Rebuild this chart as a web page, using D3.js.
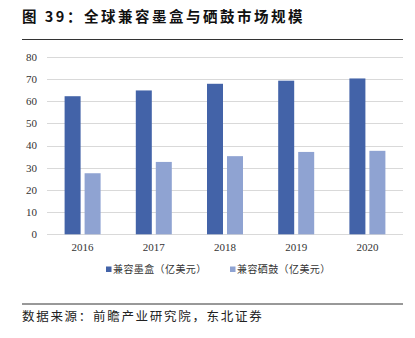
<!DOCTYPE html>
<html><head><meta charset="utf-8">
<script src="https://cdn.jsdelivr.net/npm/d3@7"></script>
<style>body{margin:0;background:#fff}</style>
</head><body>
<script>
const categories = ["2016","2017","2018","2019","2020"];
const seriesNames = ["兼容墨盒（亿美元）","兼容硒鼓（亿美元）"];
const inkValues = [62.2, 64.8, 67.8, 69.2, 70.2];
const tonerValues = [27.5, 32.6, 35.2, 37.1, 37.6];
const yTicks = [0,10,20,30,40,50,60,70,80];
const colors = ["#4363A8", "#8FA3D2"];

const W = 415, H = 338;
const svg = d3.select("body").append("svg").attr("width", W).attr("height", H);

// title
svg.append("text").attr("x", 22).attr("y", 22)
  .attr("font-family", "Noto Sans CJK SC").attr("font-weight", "bold").attr("font-size", 14.5)
  .attr("letter-spacing", 2.5).attr("fill", "#111")
  .text("图 39：全球兼容墨盒与硒鼓市场规模");
svg.append("line").attr("x1", 22).attr("x2", 403).attr("y1", 39.5).attr("y2", 39.5)
  .attr("stroke", "#333").attr("stroke-width", 1);

const x = d3.scaleBand().domain(categories).range([47, 403]);
const y = d3.scaleLinear().domain([0, 80]).range([234.3, 56.7]);

// grid
svg.append("g").selectAll("line").data(yTicks).join("line")
  .attr("x1", 47).attr("x2", 403)
  .attr("y1", d => Math.round(y(d)) + 0.5).attr("y2", d => Math.round(y(d)) + 0.5)
  .attr("stroke", "#d9d9d9").attr("stroke-width", 1);

// y labels
svg.append("g").selectAll("text").data(yTicks).join("text")
  .attr("x", 37).attr("y", d => y(d)).attr("dy", "0.35em").attr("text-anchor", "end")
  .attr("font-family", "Liberation Serif").attr("font-size", 11).attr("fill", "#333")
  .text(d => d);

const bw = 16, gap = 4;
const series = [inkValues, tonerValues];
series.forEach((vals, si) => {
  svg.append("g").selectAll("rect").data(vals).join("rect")
    .attr("x", (d, i) => x(categories[i]) + x.bandwidth() / 2 - bw - gap / 2 + si * (bw + gap))
    .attr("y", d => y(d)).attr("width", bw).attr("height", d => y(0) - y(d))
    .attr("fill", colors[si]);
});

// x labels
svg.append("g").selectAll("text").data(categories).join("text")
  .attr("x", d => x(d) + x.bandwidth() / 2).attr("y", 250.5).attr("text-anchor", "middle")
  .attr("font-family", "Liberation Serif").attr("font-size", 11).attr("fill", "#333")
  .text(d => d);

// legend
const legX = [106, 230];
seriesNames.forEach((n, i) => {
  svg.append("rect").attr("x", legX[i]).attr("y", 266.5).attr("width", 5.5).attr("height", 5.5).attr("fill", colors[i]);
  svg.append("text").attr("x", legX[i] + 7).attr("y", 269.5).attr("dy", "0.35em")
    .attr("font-family", "Noto Sans CJK SC").attr("font-size", 10).attr("letter-spacing", 0.4).attr("fill", "#333")
    .text(n);
});

// source
svg.append("line").attr("x1", 22).attr("x2", 403).attr("y1", 304).attr("y2", 304)
  .attr("stroke", "#333").attr("stroke-width", 1);
svg.append("text").attr("x", 22).attr("y", 317).attr("dy", "0.35em")
  .attr("font-family", "Noto Sans CJK SC").attr("font-size", 12.5).attr("letter-spacing", 1.7).attr("fill", "#222")
  .text("数据来源：前瞻产业研究院，东北证券");
</script>
</body></html>
